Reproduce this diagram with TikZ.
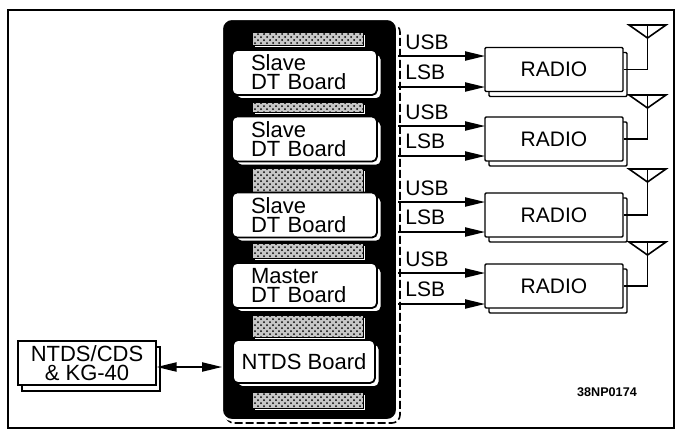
\documentclass[tikz,border=0pt]{standalone}
\usepackage{fontspec}
\setmainfont{Liberation Sans}
\usepackage{tikz}
\usetikzlibrary{arrows.meta, patterns}

\begin{document}
\begin{tikzpicture}[
            x=0.5pt, y=-0.5pt,
            >={Triangle[length=10pt, width=4.6pt]},
            drop/.style      ={preaction={draw, fill=white, transform canvas={shift={#1}}}},
            card/.style      ={draw, fill=white, line width=0.9pt, rounded corners=2.5pt,
                               minimum width=72.5pt, minimum height=22.5pt, inner ysep=0pt,
                               font=\fontsize{11}{9.5}\selectfont, drop={(2.2pt,-2pt)}},
            dt board/.style  ={card, inner xsep=9.5pt, text width=53.5pt, align=left},
            conn strip/.style={draw, fill=black!22, thin, minimum width=55.5pt, inner sep=0pt,
                               postaction={pattern=crosshatch dots, pattern color=black},
                               drop={(1.2pt,-1.2pt)}},
            radio box/.style ={draw, fill=white, line width=0.7pt, rounded corners=0.6pt,
                               minimum width=69pt, minimum height=22pt,
                               font=\fontsize{10.5}{12}\selectfont, drop={(2pt,-2.5pt)}},
            ext box/.style   ={draw, fill=white, line width=0.7pt, align=center,
                               minimum width=69pt, minimum height=22pt, inner sep=0pt,
                               font=\fontsize{11}{9.6}\selectfont, drop={(2pt,-3pt)}},
            rack fill/.style ={fill=black, draw=white, line width=1pt, rounded corners=5pt,
                               minimum width=87.5pt, minimum height=200.5pt},
            rack edge/.style ={draw, line width=0.8pt, dash pattern=on 4pt off 1.5pt,
                               rounded corners=4pt},
            sig lbl/.style   ={anchor=west, inner sep=0pt, font=\fontsize{10.5}{12}\selectfont},
            sig arr/.style   ={->, line width=0.8pt},
            ant line/.style  ={line width=0.8pt, line join=miter}
        ]
        \useasboundingbox (0,0) rectangle (676,430);
        \draw[line width=1.3pt] (8,10) rectangle (674,428);

        %% ---- card rack: black frame, edge connectors, boards ----------------
        \draw[rack edge] (226,24) rectangle (400,423);
        \node[rack fill] (rack) at (309.5,219.5) {};

        % connector strips sit behind the boards
        \node[conn strip, minimum height=6.5pt] (S1) at (307.5,38.5) {};
        \node[conn strip, minimum height=5pt]   (S2) at (307.5,107) {};
        \node[conn strip, minimum height=12pt]  (S3) at (307.5,180) {};
        \node[conn strip, minimum height=7.5pt] (S4) at (307.5,250.5) {};
        \node[conn strip, minimum height=11pt]  (S5) at (307.5,326) {};
        \node[conn strip, minimum height=8pt]   (S6) at (307.5,400) {};

        \node[dt board] (B1) at (304.5,72.5) {Slave\\DT Board};
        \node[dt board] (B2) at (304.5,139)  {Slave\\DT Board};
        \node[dt board] (B3) at (304.5,215)  {Slave\\DT Board};
        \node[dt board] (B4) at (304.5,285.5) {Master\\DT Board};
        \node[card, inner xsep=3pt, minimum width=71pt,
              minimum height=21.5pt] (B5) at (304,361.5) {NTDS Board};

        %% ---- radios: USB / LSB feeds ------------------------------------------
        \node[radio box] (R1) at (554,69.5) {RADIO};
        \node[radio box] (R2) at (554,139)  {RADIO};
        \node[radio box] (R3) at (554,215)  {RADIO};
        \node[radio box] (R4) at (554,286)  {RADIO};

        \coordinate (u1) at (485,56);  \coordinate (l1) at (485,87);
        \coordinate (u2) at (485,126); \coordinate (l2) at (485,156);
        \coordinate (u3) at (485,202); \coordinate (l3) at (485,232);
        \coordinate (u4) at (485,273); \coordinate (l4) at (485,304);

        \draw[sig arr] (rack.east |- u1) -- (u1);
        \draw[sig arr] (rack.east |- l1) -- (l1);
        \draw[sig arr] (rack.east |- u2) -- (u2);
        \draw[sig arr] (rack.east |- l2) -- (l2);
        \draw[sig arr] (rack.east |- u3) -- (u3);
        \draw[sig arr] (rack.east |- l3) -- (l3);
        \draw[sig arr] (rack.east |- u4) -- (u4);
        \draw[sig arr] (rack.east |- l4) -- (l4);

        \node[sig lbl] (usb1) at (405,42)  {USB};
        \node[sig lbl] (lsb1) at (405,72)  {LSB};
        \node[sig lbl] (usb2) at (405,112) {USB};
        \node[sig lbl] (lsb2) at (405,141) {LSB};
        \node[sig lbl] (usb3) at (405,188) {USB};
        \node[sig lbl] (lsb3) at (405,217) {LSB};
        \node[sig lbl] (usb4) at (405,259) {USB};
        \node[sig lbl] (lsb4) at (405,289) {LSB};

        % antennas: mast from the top of each triangle down to its radio
        \coordinate (A1) at (647.5,25);
        \coordinate (A2) at (647.5,95);
        \coordinate (A3) at (647.5,169);
        \coordinate (A4) at (647.5,242);
        \draw[ant line] (A1) -- ++(-18.5,0) -- ++(18.5,13) -- ++(18.5,-13) -- cycle;
        \draw[ant line] (A2) -- ++(-18.5,0) -- ++(18.5,13) -- ++(18.5,-13) -- cycle;
        \draw[ant line] (A3) -- ++(-18.5,0) -- ++(18.5,13) -- ++(18.5,-13) -- cycle;
        \draw[ant line] (A4) -- ++(-18.5,0) -- ++(18.5,13) -- ++(18.5,-13) -- cycle;
        \draw[ant line] (A1) |- (R1.east);
        \draw[ant line] (A2) |- (R2.east);
        \draw[ant line] (A3) |- (R3.east);
        \draw[ant line] (A4) |- (R4.east);

        %% ---- external link -----------------------------------------------------
        \node[ext box] (ntds) at (87,363) {NTDS/CDS\\\& KG-40};
        \coordinate (lnk) at (222,367);
        \draw[sig arr, <->] (ntds.east |- lnk) -- (lnk);

        \node[font=\fontsize{6.3}{7}\selectfont\bfseries] (figid) at (607,392) {38NP0174};
    \end{tikzpicture}
\end{document}
